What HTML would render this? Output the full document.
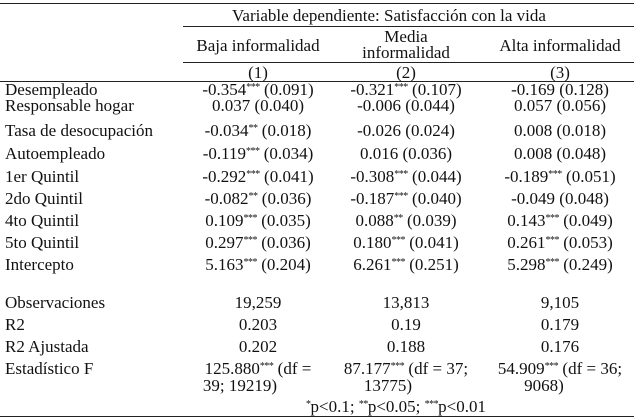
<!DOCTYPE html>
<html><head><meta charset="utf-8"><style>
body{margin:0;background:#fff;}
#t{position:relative;width:634px;height:419px;font-family:"Liberation Serif","Times New Roman",serif;font-size:17px;color:#111;overflow:hidden}
.r{position:absolute;left:0;width:634px;height:18px;line-height:18px;white-space:nowrap}
.r span{position:absolute;top:0;line-height:18px}
.r b{font-weight:normal;font-size:10px;position:relative;top:-5px;line-height:0;vertical-align:baseline;letter-spacing:-0.5px}
.l{left:5px}
.c1,.c2,.c3{transform:translateX(-50%)}
.c1{left:258px}.c2{left:406px}.c3{left:560px}
.h{position:absolute;height:1px;background:#222}
</style></head><body>
<div id="t">
<div class="h" style="left:0;width:634px;top:3px"></div>
<div class="r" style="top:7px"><span style="left:232px">Variable dependiente: Satisfacción con la vida</span></div>
<div class="h" style="left:183px;width:451px;top:26px"></div>
<div class="r" style="top:37px"><span class="c1">Baja informalidad</span><span class="c3">Alta informalidad</span></div>
<div class="r" style="top:28px"><span class="c2">Media</span></div>
<div class="r" style="top:44px"><span class="c2">informalidad</span></div>
<div class="h" style="left:183px;width:451px;top:62px"></div>
<div class="r" style="top:64px"><span class="c1">(1)</span><span class="c2">(2)</span><span class="c3">(3)</span></div>
<div class="h" style="left:0;width:634px;top:81px"></div>
<div class="r" style="top:81px"><span class="l">Desempleado</span><span class="c1">-0.354<b>***</b> (0.091)</span><span class="c2">-0.321<b>***</b> (0.107)</span><span class="c3">-0.169 (0.128)</span></div>
<div class="r" style="top:97px"><span class="l">Responsable hogar</span><span class="c1">0.037 (0.040)</span><span class="c2">-0.006 (0.044)</span><span class="c3">0.057 (0.056)</span></div>
<div class="r" style="top:122px"><span class="l">Tasa de desocupación</span><span class="c1">-0.034<b>**</b> (0.018)</span><span class="c2">-0.026 (0.024)</span><span class="c3">0.008 (0.018)</span></div>
<div class="r" style="top:145px"><span class="l">Autoempleado</span><span class="c1">-0.119<b>***</b> (0.034)</span><span class="c2">0.016 (0.036)</span><span class="c3">0.008 (0.048)</span></div>
<div class="r" style="top:168px"><span class="l">1er Quintil</span><span class="c1">-0.292<b>***</b> (0.041)</span><span class="c2">-0.308<b>***</b> (0.044)</span><span class="c3">-0.189<b>***</b> (0.051)</span></div>
<div class="r" style="top:190px"><span class="l">2do Quintil</span><span class="c1">-0.082<b>**</b> (0.036)</span><span class="c2">-0.187<b>***</b> (0.040)</span><span class="c3">-0.049 (0.048)</span></div>
<div class="r" style="top:212px"><span class="l">4to Quintil</span><span class="c1">0.109<b>***</b> (0.035)</span><span class="c2">0.088<b>**</b> (0.039)</span><span class="c3">0.143<b>***</b> (0.049)</span></div>
<div class="r" style="top:234px"><span class="l">5to Quintil</span><span class="c1">0.297<b>***</b> (0.036)</span><span class="c2">0.180<b>***</b> (0.041)</span><span class="c3">0.261<b>***</b> (0.053)</span></div>
<div class="r" style="top:256px"><span class="l">Intercepto</span><span class="c1">5.163<b>***</b> (0.204)</span><span class="c2">6.261<b>***</b> (0.251)</span><span class="c3">5.298<b>***</b> (0.249)</span></div>
<div class="r" style="top:294px"><span class="l">Observaciones</span><span class="c1">19,259</span><span class="c2">13,813</span><span class="c3">9,105</span></div>
<div class="r" style="top:316px"><span class="l">R2</span><span class="c1">0.203</span><span class="c2">0.19</span><span class="c3">0.179</span></div>
<div class="r" style="top:338px"><span class="l">R2 Ajustada</span><span class="c1">0.202</span><span class="c2">0.188</span><span class="c3">0.176</span></div>
<div class="r" style="top:360px"><span class="l">Estadístico F</span><span class="c1">125.880<b>***</b> (df =</span><span class="c2">87.177<b>***</b> (df = 37;</span><span class="c3">54.909<b>***</b> (df = 36;</span></div>
<div class="r" style="top:377px"><span class="c1" style="left:240px">39; 19219)</span><span class="c2" style="left:388px">13775)</span><span class="c3" style="left:544px">9068)</span></div>
<div class="r" style="top:398px"><span style="left:306px"><b>*</b>p&lt;0.1; <b>**</b>p&lt;0.05; <b>***</b>p&lt;0.01</span></div>
<div class="h" style="left:0;width:634px;top:416px"></div>
</div>
</body></html>
